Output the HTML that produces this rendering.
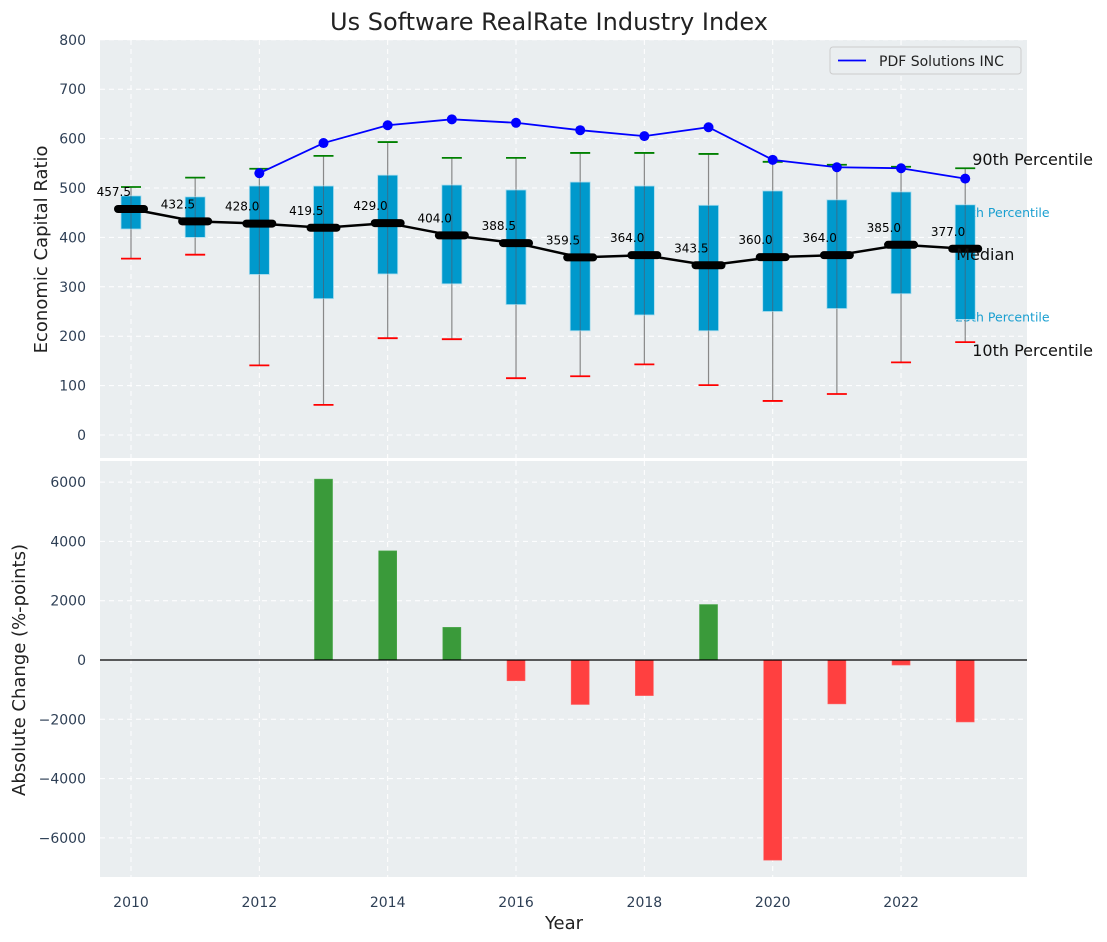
<!DOCTYPE html>
<html><head><meta charset="utf-8">
<style>
html,body{margin:0;padding:0;background:#fff;}
svg{display:block;font-family:"DejaVu Sans","Liberation Sans",sans-serif;}
</style></head>
<body>
<svg id="chart" width="1107" height="942" xmlns="http://www.w3.org/2000/svg">
<text x="549" y="30" text-anchor="middle" font-size="24" fill="#222">Us Software RealRate Industry Index</text>
<g id="topg"></g>
<g id="botg"></g>
</svg>
<script>
const years=[2010,2011,2012,2013,2014,2015,2016,2017,2018,2019,2020,2021,2022,2023];
const medians=[457.5,432.5,428.0,419.5,429.0,404.0,388.5,359.5,364.0,343.5,360.0,364.0,385.0,377.0];
const q1=[417,400,325,276,326,306,264,211,243,211,250,256,286,234];
const q3=[484,482,504,504,526,506,496,512,504,465,494,476,492,466];
const p10=[357,365,141,61,196,194,115,119,143,101,69,83,147,188];
const p90=[502,521,539,565,593,561,561,571,571,569,553,547,543,540];
const companyYears=[2012,2013,2014,2015,2016,2017,2018,2019,2020,2021,2022,2023];
const companyVals=[530,591,627,639,632,617,605,623,557,542,540,519];
const changeYears=[2013,2014,2015,2016,2017,2018,2019,2020,2021,2022,2023];
const changeVals=[6100,3680,1100,-700,-1500,-1200,1870,-6750,-1480,-170,-2090];
const topTicks=[0,100,200,300,400,500,600,700,800];
const botTicks=[-6000,-4000,-2000,0,2000,4000,6000];
const xTicks=[2010,2012,2014,2016,2018,2020,2022];

const NS="http://www.w3.org/2000/svg";
const L=100,R=1027;
const x=v=>131+(v-2010)*64.17;
const yT=v=>435-v*0.494;
const yB=v=>660-v*0.02965;
function mk(tag,attrs,parent,txt){const el=document.createElementNS(NS,tag);for(const k in attrs)el.setAttribute(k,attrs[k]);if(txt!==undefined)el.textContent=txt;parent.appendChild(el);return el;}
const gTop=document.getElementById('topg'),gBot=document.getElementById('botg');
let e;

e=mk('rect',{x:L,y:40,width:R-L,height:418,fill:'#eaeef0'},gTop);


e=mk('rect',{x:L,y:461,width:R-L,height:416,fill:'#eaeef0'},gBot);



topTicks.forEach(t=>{
  mk('line',{x1:L,x2:R,y1:yT(t),y2:yT(t),stroke:'#fff','stroke-dasharray':'5,4','stroke-width':1},gTop);
  e=mk('text',{x:86,y:yT(t)+5,'text-anchor':'end','font-size':14,fill:'#2e3f55'},gTop,t);
  
  
});
botTicks.forEach(t=>{
  mk('line',{x1:L,x2:R,y1:yB(t),y2:yB(t),stroke:'#fff','stroke-dasharray':'5,4','stroke-width':1},gBot);
  e=mk('text',{x:86,y:yB(t)+5,'text-anchor':'end','font-size':14,fill:'#2e3f55'},gBot,t<0?'\u2212'+(-t):t);
  
  
});
xTicks.forEach(t=>{
  mk('line',{x1:x(t),x2:x(t),y1:40,y2:458,stroke:'#fff','stroke-dasharray':'5,4'},gTop);
  mk('line',{x1:x(t),x2:x(t),y1:461,y2:877,stroke:'#fff','stroke-dasharray':'5,4'},gBot);
  e=mk('text',{x:x(t),y:907,'text-anchor':'middle','font-size':14,fill:'#2e3f55'},gBot,t);
  
  
});

const lx=x(2023);
e=mk('text',{x:lx+7,y:yT(p90[13])-3,'font-size':16,fill:'#111'},gTop,'90th Percentile');


e=mk('text',{x:lx-10,y:yT(q3[13])+12,'font-size':12.5,fill:'#1a9fd0'},gTop,'75th Percentile');


e=mk('text',{x:lx-10,y:yT(q1[13])+2,'font-size':12.5,fill:'#1a9fd0'},gTop,'25th Percentile');


e=mk('text',{x:lx+7,y:yT(p10[13])+14,'font-size':16,fill:'#111'},gTop,'10th Percentile');



years.forEach((yr,i)=>{
  const cx=x(yr);
  e=mk('line',{x1:cx,x2:cx,y1:yT(p90[i]),y2:yT(p10[i]),stroke:'#888','stroke-width':1.2},gTop);
  
  
  e=mk('rect',{x:cx-10,y:yT(q3[i]),width:20,height:yT(q1[i])-yT(q3[i]),fill:'#0099cc',stroke:'#a8dcee','stroke-width':0.8},gTop);
  
  
  mk('line',{x1:cx,x2:cx,y1:yT(q3[i]),y2:yT(q1[i]),stroke:'#556','stroke-width':1,opacity:0.6},gTop);
  e=mk('line',{x1:cx-10,x2:cx+10,y1:yT(p90[i]),y2:yT(p90[i]),stroke:'green','stroke-width':1.8},gTop);
  
  
  e=mk('line',{x1:cx-10,x2:cx+10,y1:yT(p10[i]),y2:yT(p10[i]),stroke:'red','stroke-width':1.8},gTop);
  
  
});
e=mk('polyline',{points:years.map((yr,i)=>x(yr)+','+yT(medians[i])).join(' '),fill:'none',stroke:'#000','stroke-width':2.5},gTop);


years.forEach((yr,i)=>{
  const cx=x(yr);
  e=mk('line',{x1:cx-13,x2:cx+13,y1:yT(medians[i]),y2:yT(medians[i]),stroke:'#000','stroke-width':8,'stroke-linecap':'round'},gTop);
  
  
  e=mk('text',{x:cx,y:yT(medians[i])-13,'text-anchor':'end','font-size':12,fill:'#000'},gTop,medians[i].toFixed(1));
  
  
});
e=mk('text',{x:lx-9,y:yT(medians[13])+11,'font-size':16,fill:'#111'},gTop,'Median');



e=mk('polyline',{points:companyYears.map((yr,i)=>x(yr)+','+yT(companyVals[i])).join(' '),fill:'none',stroke:'blue','stroke-width':1.8},gTop);


companyYears.forEach((yr,i)=>{
  e=mk('circle',{cx:x(yr),cy:yT(companyVals[i]),r:5,fill:'blue'},gTop);
  
  
});

const lg=mk('g',{},gTop);


mk('rect',{x:830,y:47,width:191,height:27,rx:3,fill:'#eaeef0',stroke:'#ccc'},lg);
mk('line',{x1:838,x2:866,y1:60.5,y2:60.5,stroke:'blue','stroke-width':1.8},lg);
mk('text',{x:879,y:66,'font-size':14,fill:'#222'},lg,'PDF Solutions INC');

changeYears.forEach((yr,i)=>{
  const v=changeVals[i];
  const y0=yB(Math.max(v,0)),y1=yB(Math.min(v,0));
  e=mk('rect',{x:x(yr)-9,y:y0,width:18,height:y1-y0,fill:v>=0?'#3a9a3a':'#ff4040',stroke:v>=0?'#4aa84a':'#ff6060','stroke-width':0.6},gBot);
  
  
});
e=mk('line',{x1:L,x2:R,y1:yB(0),y2:yB(0),stroke:'#000','stroke-width':1.3},gBot);



e=mk('text',{x:47,y:yT(400)+12,'text-anchor':'middle','font-size':18,fill:'#222',transform:'rotate(-90 47 '+(yT(400)+12)+')'},gTop,'Economic Capital Ratio');


e=mk('text',{x:25,y:670,'text-anchor':'middle','font-size':18,fill:'#222',transform:'rotate(-90 25 670)'},gBot,'Absolute Change (%-points)');


e=mk('text',{x:564,y:929,'text-anchor':'middle','font-size':18,fill:'#222'},gBot,'Year');


</script>
</body></html>
